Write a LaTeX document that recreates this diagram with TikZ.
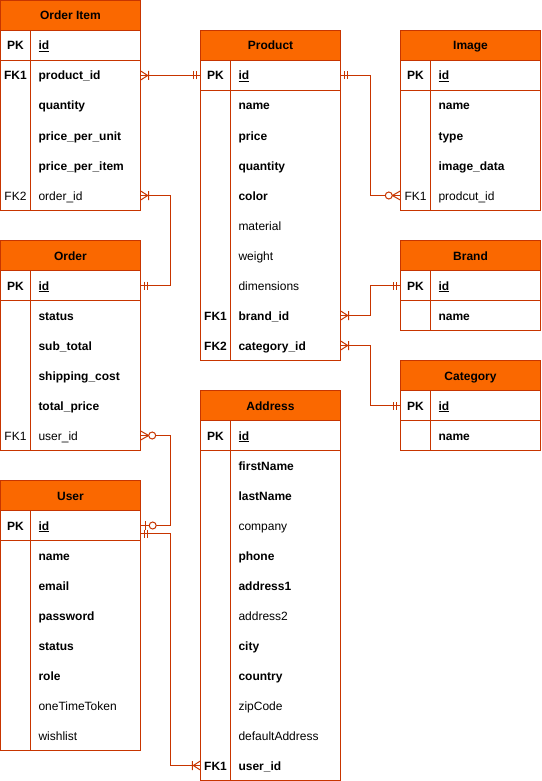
\documentclass[tikz,border=0pt]{standalone}
\usepackage{fontspec}
\setmainfont{Liberation Sans}
\usetikzlibrary{positioning, calc}
\definecolor{ertitle}{HTML}{FA6800}
\definecolor{erline}{HTML}{C73500}

% #1 name, #2 left, #3 top, #4 title, #5 rows below PK, #6 key/font/field
\newcommand{\ertable}[6]{%
  \draw[tabline] (#2,#3+30) rectangle (#2+140,#3+60+30*#5);
  \draw[tabline] (#2,#3+60) -- (#2+140,#3+60);
  \draw[tabline] (#2+30,#3+30) -- (#2+30,#3+60+30*#5);
  \node[tabhead] (#1) at (#2+70,#3+15) {#4};
  \node[keycell] (#1-pk) at (#2+15,#3+45) {\bfseries PK};
  \node[fieldcell] (#1-id) at (#2+85,#3+45) {\bfseries\underline{id}};
  \foreach \fk/\fs/\fn [count=\i] in {#6} {
    \node[keycell] (#1-k\i) at (#2+15,#3+45+30*\i) {\fs\fk};
    \node[fieldcell] (#1-\i) at (#2+85,#3+45+30*\i) {\fs\fn};
  }%
}

\begin{document}
\begin{tikzpicture}[
    x=1pt, y=-1pt,
    tabhead/.style={draw=erline, fill=ertitle, minimum width=140pt,
                    minimum height=30pt, inner sep=0pt, line width=1pt,
                    text height=10pt, text depth=1pt,
                    font=\fontsize{12}{14}\selectfont\bfseries},
    keycell/.style={minimum width=30pt, minimum height=30pt, inner sep=0pt,
                    text height=10pt, text depth=1pt,
                    font=\fontsize{12}{14}\selectfont},
    fieldcell/.style={minimum width=110pt, minimum height=30pt, text width=94pt,
                      inner xsep=8pt, inner ysep=0pt, align=left,
                      text height=10pt, text depth=1pt,
                      font=\fontsize{12}{14}\selectfont},
    tabline/.style={draw=erline, line width=1pt},
    relline/.style={draw=erline, line width=1pt},
    one/.pic={\draw[relline] (4,-4) -- (4,4) (7,-4) -- (7,4);},
    many/.pic={\draw[relline] (0,-4.5) -- (7,0) -- (0,4.5) (8,-4.5) -- (8,4.5);},
    zeromany/.pic={\draw[relline] (0,-4.5) -- (8,0) -- (0,4.5);
                   \draw[relline, fill=white] (11.5,0) circle[radius=3.5];},
    zeroone/.pic={\draw[relline] (5,-4.5) -- (5,4.5);
                  \draw[relline, fill=white] (12,0) circle[radius=3.5];}
]
    \useasboundingbox (-0.5,-0.5) rectangle (540.5,780.5);

    \ertable{oi}{0}{0}{Order Item}{5}{FK1/\bfseries/product\_id, {}/\bfseries/quantity,
      {}/\bfseries/price\_per\_unit, {}/\bfseries/price\_per\_item, FK2/\mdseries/order\_id}
    \ertable{pr}{200}{30}{Product}{9}{{}/\bfseries/name, {}/\bfseries/price,
      {}/\bfseries/quantity, {}/\bfseries/color, {}/\mdseries/material, {}/\mdseries/weight,
      {}/\mdseries/dimensions, FK1/\bfseries/brand\_id, FK2/\bfseries/category\_id}
    \ertable{im}{400}{30}{Image}{4}{{}/\bfseries/name, {}/\bfseries/type,
      {}/\bfseries/image\_data, FK1/\mdseries/prodcut\_id}
    \ertable{br}{400}{240}{Brand}{1}{{}/\bfseries/name}
    \ertable{ca}{400}{360}{Category}{1}{{}/\bfseries/name}
    \ertable{or}{0}{240}{Order}{5}{{}/\bfseries/status, {}/\bfseries/sub\_total,
      {}/\bfseries/shipping\_cost, {}/\bfseries/total\_price, FK1/\mdseries/user\_id}
    \ertable{ad}{200}{390}{Address}{11}{{}/\bfseries/firstName, {}/\bfseries/lastName,
      {}/\mdseries/company, {}/\bfseries/phone, {}/\bfseries/address1, {}/\mdseries/address2,
      {}/\bfseries/city, {}/\bfseries/country, {}/\mdseries/zipCode,
      {}/\mdseries/defaultAddress, FK1/\bfseries/user\_id}
    \ertable{us}{0}{480}{User}{7}{{}/\bfseries/name, {}/\bfseries/email,
      {}/\bfseries/password, {}/\bfseries/status, {}/\bfseries/role,
      {}/\mdseries/oneTimeToken, {}/\mdseries/wishlist}

    % relations
    \draw[relline] (oi-1.east) -- (pr-pk.west);
    \pic at (oi-1.east) {many};
    \pic[rotate=180] at (pr-pk.west) {one};

    \draw[relline] (oi-5.east) -- ++(30,0) |- (or-id.east);
    \pic at (oi-5.east) {many};
    \pic at (or-id.east) {one};

    \draw[relline] (pr-id.east) -- ++(30,0) |- (im-k4.west);
    \pic at (pr-id.east) {one};
    \pic[rotate=180] at (im-k4.west) {zeromany};

    \draw[relline] (pr-8.east) -- ++(30,0) |- (br-pk.west);
    \pic at (pr-8.east) {many};
    \pic[rotate=180] at (br-pk.west) {one};

    \draw[relline] (pr-9.east) -- ++(30,0) |- (ca-pk.west);
    \pic at (pr-9.east) {many};
    \pic[rotate=180] at (ca-pk.west) {one};

    \draw[relline] (or-5.east) -- ++(30,0) |- (us-id.east);
    \pic at (or-5.east) {zeromany};
    \pic at (us-id.east) {zeroone};

    \coordinate (us-out) at ([yshift=-8pt]us-id.east);
    \draw[relline] (us-out) -- ++(30,0) |- (ad-k11.west);
    \pic at (us-out) {one};
    \pic[rotate=180] at (ad-k11.west) {many};
\end{tikzpicture}
\end{document}
